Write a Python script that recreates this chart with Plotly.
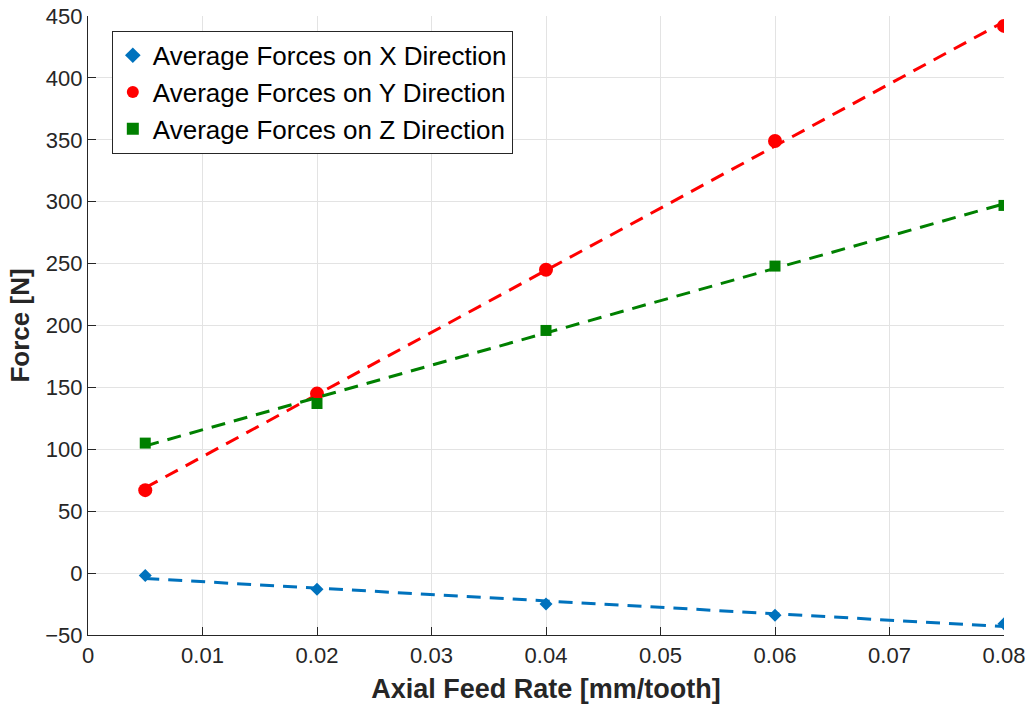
import numpy as np
import plotly.graph_objects as go

feed = [0.005, 0.02, 0.04, 0.06, 0.08]
force_x = [-2, -13, -25, -34, -41]
force_y = [67, 145, 245, 349, 442]
force_z = [105, 137, 196, 248, 297]

names = ["Average Forces on X Direction", "Average Forces on Y Direction", "Average Forces on Z Direction"]
colors = ["#0072BD", "#FF0000", "#008000"]
symbols = ["diamond", "circle", "square"]
sizes = [10, 14, 11]
series = [force_x, force_y, force_z]

fig = go.Figure()
for n, c, s, sz, ys in zip(names, colors, symbols, sizes, series):
    fig.add_trace(go.Scatter(x=feed, y=ys, mode="markers", name=n,
                             marker=dict(color=c, symbol=s, size=sz, line=dict(width=0))))
for c, ys in zip(colors, series):
    k, b = np.polyfit(feed, ys, 1)
    xf = [feed[0], feed[-1]]
    fig.add_trace(go.Scatter(x=xf, y=[k * v + b for v in xf], mode="lines", showlegend=False,
                             line=dict(color=c, width=3, dash="14px,9px"), hoverinfo="skip"))

FONT = "Arial, Liberation Sans, sans-serif"
axis_common = dict(showgrid=True, gridcolor="#e3e3e3", gridwidth=1, zeroline=False,
                   showline=True, linecolor="#262626", linewidth=1.2,
                   ticks="inside", ticklen=8, tickcolor="#262626", automargin=False,
                   tickfont=dict(family=FONT, size=22, color="#262626"))

fig.update_xaxes(range=[0, 0.08], dtick=0.01, tickformat="~g",
                 title=dict(text="<b>Axial Feed Rate [mm/tooth]</b>",
                            font=dict(family=FONT, size=27, color="#262626"),
                            standoff=12),
                 **axis_common)
fig.update_yaxes(range=[-50, 450], dtick=50,
                 title=dict(text="<b>Force [N]</b>",
                            font=dict(family=FONT, size=26, color="#262626"),
                            standoff=8),
                 **axis_common)

fig.update_layout(
    width=1026, height=708,
    margin=dict(l=88, r=22, t=16, b=73),
    plot_bgcolor="white", paper_bgcolor="white",
    legend=dict(x=0.026, y=0.976, xanchor="left", yanchor="top",
                bgcolor="white", bordercolor="#262626", borderwidth=1,
                font=dict(family=FONT, size=26, color="black"),
                itemsizing="constant", tracegroupgap=0, itemwidth=30),
)

fig.write_html("out.html")
